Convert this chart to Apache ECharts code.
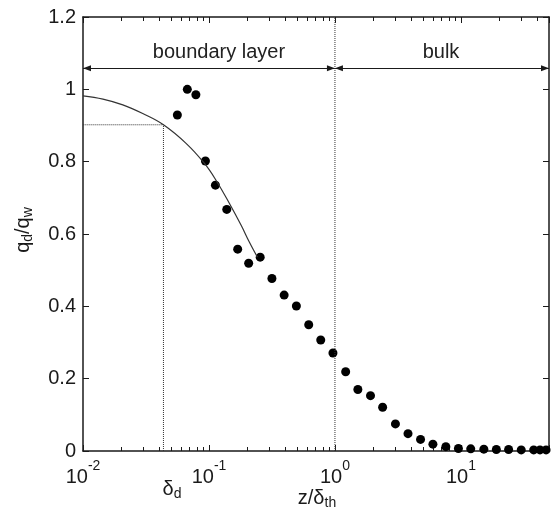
<!DOCTYPE html>
<html>
<head>
<meta charset="utf-8">
<script src="https://cdn.jsdelivr.net/npm/echarts@6/dist/echarts.min.js"></script>
<style>
html, body { margin: 0; padding: 0; background: #fff; }
#chart { width: 552px; height: 517px; }
</style>
</head>
<body>
<div id="chart"></div>
<script>
// measured points (z/delta_th, q_d/q_w)
var zData = [0.0561, 0.0673, 0.0787, 0.0937, 0.1125, 0.1384, 0.169, 0.2065, 0.255, 0.316,
  0.395, 0.494, 0.619, 0.771, 0.964, 1.216, 1.52, 1.915, 2.39, 3.02,
  3.80, 4.78, 5.99, 7.59, 9.55, 11.96, 15.2, 19.1, 23.9, 30.1,
  37.8, 42.4, 47.4];
var qData = [0.929, 1.000, 0.985, 0.802, 0.735, 0.668, 0.558, 0.519, 0.536, 0.477,
  0.431, 0.401, 0.349, 0.307, 0.271, 0.219, 0.170, 0.153, 0.121, 0.075,
  0.048, 0.032, 0.019, 0.012, 0.007, 0.006, 0.005, 0.004, 0.004, 0.003,
  0.003, 0.003, 0.003];

// model curve (boundary layer)
var curveZ = [0.01, 0.0144, 0.0207, 0.0298, 0.0435, 0.0661, 0.0921, 0.114, 0.145, 0.180, 0.209, 0.2424];
var curveQ = [0.982, 0.973, 0.957, 0.933, 0.902, 0.850, 0.795, 0.748, 0.685, 0.624, 0.578, 0.536];

var xMin = 0.01, xMax = 50;
var yMin = 0, yMax = 1.2, yStep = 0.2;
var decades = [0.01, 0.1, 1, 10];
var deltaD = 0.0435, qAtDelta = 0.902;
var zTh = 1;
var arrowQ = 1.058;

var font = "'Liberation Sans', Arial, sans-serif";
var ink = '#1a1a1a';

// minor tick positions 2..9 per decade
var minorTicks = [];
decades.forEach(function (d) {
  for (var m = 2; m <= 9; m++) {
    if (m * d < xMax) minorTicks.push([m * d, 0.6]);
  }
});

var pts = zData.map(function (z, i) { return [z, qData[i]]; });
var curve = curveZ.map(function (z, i) { return [z, curveQ[i]]; });

// arrow head with tip at symbol centre
var head = 'path://M0,8 L3,16 L-3,16 Z M-8,0 M8,0';

function tick() {
  return { show: true, inside: true, length: 6, lineStyle: { color: ink, width: 1 } };
}

var chart = echarts.init(document.getElementById('chart'));
chart.setOption({
  backgroundColor: '#fff',
  animation: false,
  grid: { left: 83, right: 1, top: 17, bottom: 66 },
  xAxis: [
    {
      type: 'log', logBase: 10, min: xMin, max: xMax,
      position: 'bottom',
      axisLine: { onZero: false, lineStyle: { color: ink, width: 1.5 } },
      axisTick: tick(),
      splitLine: { show: false },
      axisLabel: {
        margin: 8,
        formatter: function (v) {
          var l = Math.log(v) / Math.LN10;
          var e = Math.round(l);
          if (Math.abs(l - e) > 1e-6) return '';
          return '{b|10}{s|' + e + '}';
        },
        rich: {
          b: { fontSize: 20, fontFamily: font, color: ink, lineHeight: 28, verticalAlign: 'bottom' },
          s: { fontSize: 14, fontFamily: font, color: ink, lineHeight: 14, verticalAlign: 'top' }
        }
      }
    },
    {
      type: 'log', logBase: 10, min: xMin, max: xMax,
      position: 'top',
      axisLine: { onZero: false, lineStyle: { color: ink, width: 1.5 } },
      axisTick: tick(),
      axisLabel: { show: false },
      splitLine: { show: false }
    }
  ],
  yAxis: [
    {
      type: 'value', min: yMin, max: yMax, interval: yStep,
      position: 'left',
      axisLine: { show: true, onZero: false, lineStyle: { color: ink, width: 1.5 } },
      axisTick: tick(),
      splitLine: { show: false },
      axisLabel: { margin: 7, fontSize: 20, fontFamily: font, color: ink }
    },
    {
      type: 'value', min: yMin, max: yMax, interval: yStep,
      position: 'right',
      axisLine: { show: true, onZero: false, lineStyle: { color: ink, width: 1.5 } },
      axisTick: tick(),
      axisLabel: { show: false },
      splitLine: { show: false }
    }
  ],
  series: [
    {
      // minor log ticks, bottom and top
      type: 'custom',
      silent: true,
      data: minorTicks,
      renderItem: function (params, api) {
        var v = api.value(0);
        var b = api.coord([v, yMin]);
        var t = api.coord([v, yMax]);
        var x = Math.round(b[0]) + 0.5;
        return {
          type: 'group',
          children: [
            { type: 'line', shape: { x1: x, y1: b[1], x2: x, y2: b[1] - 4 }, style: { stroke: ink, lineWidth: 1 } },
            { type: 'line', shape: { x1: x, y1: t[1], x2: x, y2: t[1] + 4 }, style: { stroke: ink, lineWidth: 1 } }
          ]
        };
      }
    },
    {
      // delta_d guides
      type: 'line',
      data: [[deltaD, 0], [deltaD, qAtDelta], [xMin, qAtDelta]],
      symbol: 'none',
      silent: true,
      lineStyle: { type: 'dotted', width: 1, color: '#333' }
    },
    {
      // delta_th boundary
      type: 'line',
      data: [[zTh, yMin], [zTh, yMax]],
      symbol: 'none',
      silent: true,
      lineStyle: { type: 'dotted', width: 1, color: '#333' }
    },
    {
      // region arrows
      type: 'line',
      data: [],
      markLine: {
        silent: true,
        symbol: [head, head],
        symbolSize: 16,
        label: { show: false },
        lineStyle: { type: 'solid', width: 1, color: ink },
        emphasis: { disabled: true },
        data: [
          [{ coord: [xMin, arrowQ] }, { coord: [zTh, arrowQ] }],
          [{ coord: [zTh, arrowQ] }, { coord: [xMax, arrowQ] }]
        ]
      }
    },
    {
      type: 'line',
      data: curve,
      smooth: 0.4,
      symbol: 'none',
      silent: true,
      lineStyle: { width: 1.2, color: '#333' }
    },
    {
      type: 'scatter',
      data: pts,
      symbol: 'circle',
      symbolSize: 9,
      clip: false,
      itemStyle: { color: '#000', opacity: 1 }
    }
  ],
  graphic: [
    {
      type: 'text', x: 219, y: 52,
      style: { text: 'boundary layer', font: '20px ' + font, fill: '#222', align: 'center', verticalAlign: 'middle' }
    },
    {
      type: 'text', x: 441, y: 52,
      style: { text: 'bulk', font: '20px ' + font, fill: '#222', align: 'center', verticalAlign: 'middle' }
    },
    {
      type: 'text', x: 172, y: 490,
      style: {
        text: '{a|δ}{s|d}', align: 'center', verticalAlign: 'middle',
        rich: {
          a: { fontSize: 20, fontFamily: font, fill: ink, lineHeight: 22, verticalAlign: 'top' },
          s: { fontSize: 14, fontFamily: font, fill: ink, lineHeight: 14, verticalAlign: 'bottom' }
        }
      }
    },
    {
      type: 'text', x: 317, y: 499,
      style: {
        text: '{a|z/δ}{s|th}', align: 'center', verticalAlign: 'middle',
        rich: {
          a: { fontSize: 20, fontFamily: font, fill: ink, lineHeight: 22, verticalAlign: 'top' },
          s: { fontSize: 14, fontFamily: font, fill: ink, lineHeight: 14, verticalAlign: 'bottom' }
        }
      }
    },
    {
      type: 'text', x: 24, y: 230, rotation: Math.PI / 2,
      style: {
        text: '{a|q}{s|d}{a|/q}{s|w}', align: 'center', verticalAlign: 'middle',
        rich: {
          a: { fontSize: 20, fontFamily: font, fill: ink, lineHeight: 22, verticalAlign: 'top' },
          s: { fontSize: 14, fontFamily: font, fill: ink, lineHeight: 14, verticalAlign: 'bottom' }
        }
      }
    }
  ]
});
</script>
</body>
</html>
